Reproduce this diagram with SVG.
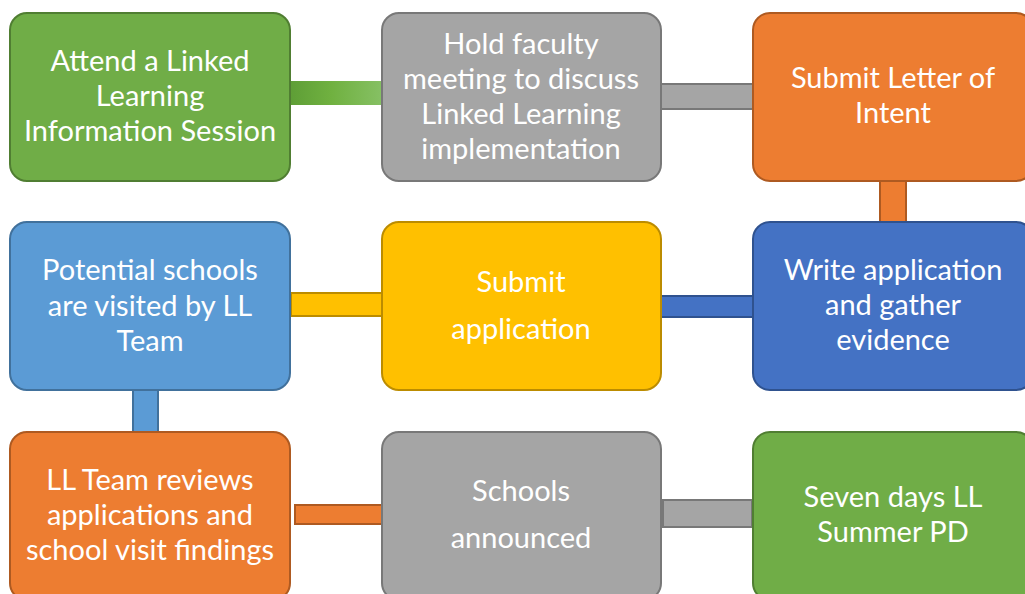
<svg xmlns="http://www.w3.org/2000/svg" width="1025" height="594" viewBox="0 0 1025 594">
  <defs>
    <linearGradient id="gGreenBar" x1="0" y1="0" x2="1" y2="0">
      <stop offset="0" stop-color="#5E9E36"/>
      <stop offset="0.45" stop-color="#70B140"/>
      <stop offset="1" stop-color="#86C064"/>
    </linearGradient>
    <style>
      .box { stroke-width: 2; }
      .green { fill: #70AD47; stroke: #507E32; }
      .gray { fill: #A5A5A5; stroke: #787878; }
      .orange { fill: #ED7D31; stroke: #AE5A21; }
      .blue { fill: #5B9BD5; stroke: #41719C; }
      .yellow { fill: #FFC000; stroke: #BC8C00; }
      .dblue { fill: #4472C4; stroke: #2F528F; }
      .bar { stroke-width: 2; }
      text { font-family: Lato, "Liberation Sans", sans-serif; font-size: 29px; fill: #FFFFFF; text-anchor: middle; }
    </style>
  </defs>
  <rect width="1025" height="594" fill="#FFFFFF"/>

  <!-- connector bars -->
  <g id="connectors">
    <rect x="290" y="81" width="92" height="24" fill="url(#gGreenBar)"/>
    <rect class="bar gray" x="661" y="84" width="92" height="25"/>
    <rect class="bar orange" x="880" y="181" width="26" height="41"/>
    <rect class="bar yellow" x="291" y="293" width="91" height="23"/>
    <rect class="bar dblue" x="661" y="296" width="92" height="21"/>
    <rect class="bar blue" x="133" y="390" width="25" height="42"/>
    <rect class="bar orange" x="295" y="505" width="89" height="19"/>
    <rect class="bar gray" x="663" y="500" width="89" height="27"/>
  </g>

  <!-- row 1 -->
  <g id="n1">
    <rect class="box green" x="10" y="13" width="280" height="168" rx="17"/>
    <text x="150" y="71">Attend a Linked</text>
    <text x="150" y="106">Learning</text>
    <text x="150" y="141">Information Session</text>
  </g>
  <g id="n2">
    <rect class="box gray" x="382" y="13" width="279" height="168" rx="17"/>
    <text x="521" y="54">Hold faculty</text>
    <text x="521" y="89">meeting to discuss</text>
    <text x="521" y="124">Linked Learning</text>
    <text x="521" y="159">implementation</text>
  </g>
  <g id="n3">
    <rect class="box orange" x="753" y="13" width="280" height="168" rx="17"/>
    <text x="893" y="88">Submit Letter of</text>
    <text x="893" y="123">Intent</text>
  </g>

  <!-- row 2 -->
  <g id="n4">
    <rect class="box blue" x="10" y="222" width="280" height="168" rx="17"/>
    <text x="150" y="280">Potential schools</text>
    <text x="150" y="316">are visited by LL</text>
    <text x="150" y="351">Team</text>
  </g>
  <g id="n5">
    <rect class="box yellow" x="382" y="222" width="279" height="168" rx="17"/>
    <text x="521" y="292">Submit</text>
    <text x="521" y="339">application</text>
  </g>
  <g id="n6">
    <rect class="box dblue" x="753" y="222" width="280" height="168" rx="17"/>
    <text x="893" y="280">Write application</text>
    <text x="893" y="315">and gather</text>
    <text x="893" y="350">evidence</text>
  </g>

  <!-- row 3 -->
  <g id="n7">
    <rect class="box orange" x="10" y="432" width="280" height="168" rx="17"/>
    <text x="150" y="490">LL Team reviews</text>
    <text x="150" y="525">applications and</text>
    <text x="150" y="560">school visit findings</text>
  </g>
  <g id="n8">
    <rect class="box gray" x="382" y="432" width="279" height="168" rx="17"/>
    <text x="521" y="501">Schools</text>
    <text x="521" y="548">announced</text>
  </g>
  <g id="n9">
    <rect class="box green" x="753" y="432" width="280" height="168" rx="17"/>
    <text x="893" y="507">Seven days LL</text>
    <text x="893" y="542">Summer PD</text>
  </g>
</svg>
